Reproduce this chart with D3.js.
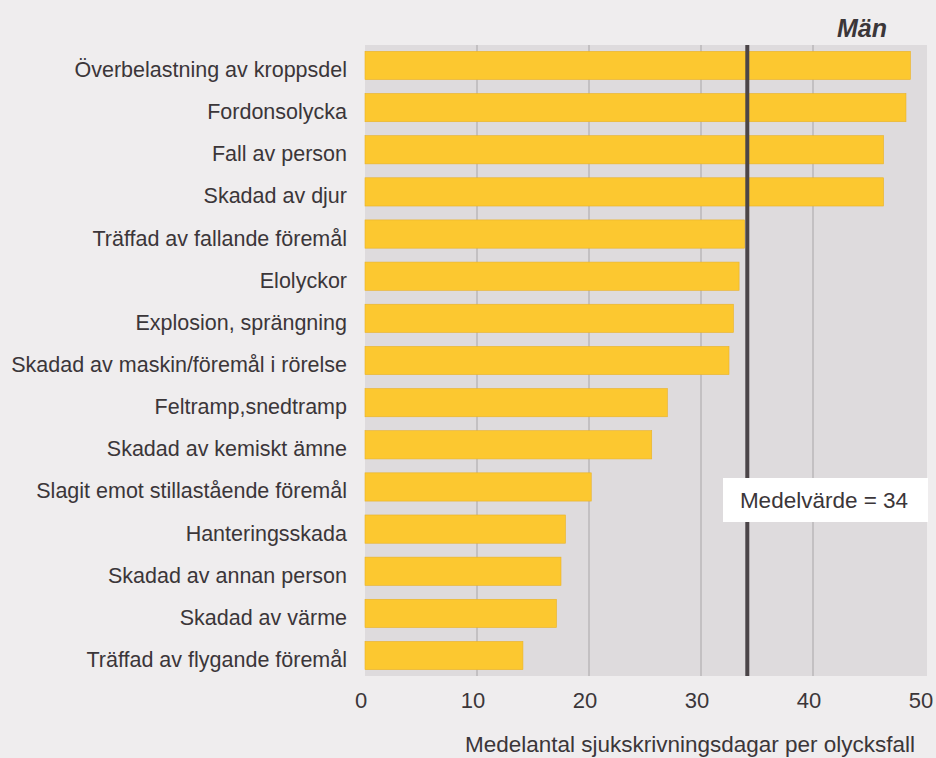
<!DOCTYPE html>
<html>
<head>
<meta charset="utf-8">
<script src="https://cdn.jsdelivr.net/npm/d3@7"></script>
<style>
  body { margin: 0; background: #efedee; }
  text { font-family: "Liberation Sans", Arial, sans-serif; fill: #3b3639; }
</style>
</head>
<body>
<div id="chart"></div>
<script>
// data (average sick days per accident, men)
const categories = [
  "Överbelastning av kroppsdel",
  "Fordonsolycka",
  "Fall av person",
  "Skadad av djur",
  "Träffad av fallande föremål",
  "Elolyckor",
  "Explosion, sprängning",
  "Skadad av maskin/föremål i rörelse",
  "Feltramp,snedtramp",
  "Skadad av kemiskt ämne",
  "Slagit emot stillastående föremål",
  "Hanteringsskada",
  "Skadad av annan person",
  "Skadad av värme",
  "Träffad av flygande föremål"
]
const values = [48.7, 48.3, 46.3, 46.3, 33.9, 33.4, 32.9, 32.5, 27.0, 25.6, 20.2, 17.9, 17.5, 17.1, 14.1]
const meanValue = 34
const xTicks = [0, 10, 20, 30, 40, 50]
const title = "Män"
const meanLabel = "Medelvärde = " + meanValue
const xTitle = "Medelantal sjukskrivningsdagar per olycksfall"

const width = 936
const height = 758
const plot = { left: 365, right: 927, top: 45, bottom: 676 }

const svg = d3.select("#chart")
  .append("svg")
    .attr("width", width)
    .attr("height", height)

// scales
const x = d3.scaleLinear()
  .domain([0, 50])
  .range([plot.left, plot.left + 560])

const y = d3.scaleBand()
  .domain(categories)
  .range([plot.top, plot.bottom])
  .paddingInner(0.33)
  .paddingOuter(0.15)

// grey plot background
svg.append("rect")
  .attr("x", plot.left)
  .attr("y", plot.top)
  .attr("width", plot.right - plot.left)
  .attr("height", plot.bottom - plot.top)
  .attr("fill", "#dedbdd")

// vertical grid lines
svg.append("g")
  .selectAll("line")
  .data(xTicks.filter(d => d > 0 && d < 50))
  .join("line")
    .attr("x1", d => x(d))
    .attr("x2", d => x(d))
    .attr("y1", plot.top)
    .attr("y2", plot.bottom)
    .attr("stroke", "#a8a5a7")
    .attr("stroke-width", 1)

// bars
svg.append("g")
  .selectAll("rect")
  .data(categories)
  .join("rect")
    .attr("x", x(0))
    .attr("y", d => y(d))
    .attr("width", (d, i) => x(values[i]) - x(0))
    .attr("height", y.bandwidth())
    .attr("fill", "#fcc830")
    .attr("stroke", "#e9b228")
    .attr("stroke-width", 0.6)

// mean line
svg.append("line")
  .attr("x1", x(meanValue) + 1.5)
  .attr("x2", x(meanValue) + 1.5)
  .attr("y1", plot.top)
  .attr("y2", plot.bottom)
  .attr("stroke", "#4b4548")
  .attr("stroke-width", 4)

// mean label box
const box = svg.append("g")
box.append("rect")
  .attr("x", 723)
  .attr("y", 478)
  .attr("width", 205)
  .attr("height", 44)
  .attr("fill", "#ffffff")
box.append("text")
  .attr("x", 824)
  .attr("y", 500)
  .attr("dy", "0.35em")
  .attr("text-anchor", "middle")
  .attr("font-size", 22.5)
  .text(meanLabel)

// category labels
svg.append("g")
  .selectAll("text")
  .data(categories)
  .join("text")
    .attr("x", 347)
    .attr("y", d => y(d) + y.bandwidth() / 2 + 4)
    .attr("dy", "0.35em")
    .attr("text-anchor", "end")
    .attr("font-size", 21.5)
    .text(d => d)

// x axis tick labels
svg.append("g")
  .selectAll("text")
  .data(xTicks)
  .join("text")
    .attr("x", d => x(d) - 4)
    .attr("y", 700)
    .attr("dy", "0.35em")
    .attr("text-anchor", "middle")
    .attr("font-size", 22)
    .text(d => d)

// axis title
svg.append("text")
  .attr("x", 690)
  .attr("y", 744)
  .attr("dy", "0.35em")
  .attr("text-anchor", "middle")
  .attr("font-size", 22.5)
  .text(xTitle)

// panel title
svg.append("text")
  .attr("x", 887)
  .attr("y", 37)
  .attr("text-anchor", "end")
  .attr("font-size", 25)
  .attr("font-weight", "bold")
  .attr("font-style", "italic")
  .text(title)
</script>
</body>
</html>
